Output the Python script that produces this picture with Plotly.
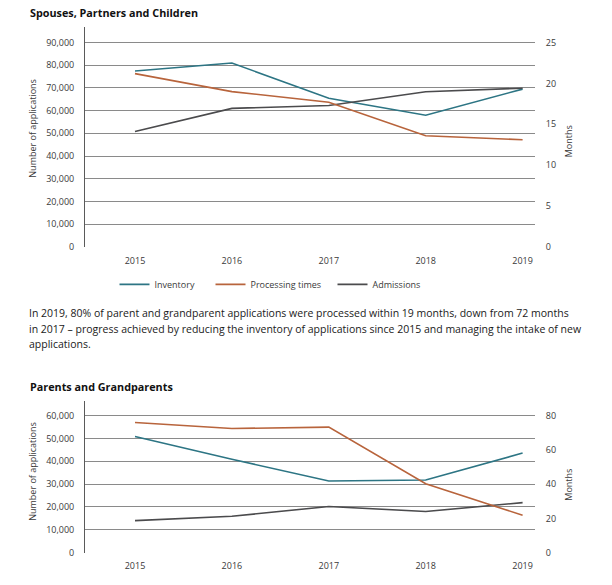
import plotly.graph_objects as go

W, H = 612, 585

years = [2015, 2016, 2017, 2018, 2019]
series_names = ["Inventory", "Processing times", "Admissions"]

# Spouses, Partners and Children
spc_inventory = [77500, 81000, 65500, 58000, 69500]
spc_processing_months = [21.2, 19.0, 17.7, 13.6, 13.1]
spc_admissions = [50800, 61000, 62300, 68300, 69900]

# Parents and Grandparents
pg_inventory = [50900, 40900, 31400, 31800, 43600]
pg_processing_months = [76.0, 72.5, 73.3, 40.2, 21.8]
pg_admissions = [14000, 15900, 20200, 18000, 21900]

spc_left_ticks = [0, 10000, 20000, 30000, 40000, 50000, 60000, 70000, 80000, 90000]
spc_right_ticks = [0, 5, 10, 15, 20, 25]
pg_left_ticks = [0, 10000, 20000, 30000, 40000, 50000, 60000]
pg_right_ticks = [0, 20, 40, 60, 80]

title_top = "Spouses, Partners and Children"
title_bottom = "Parents and Grandparents"
left_title = "Number of applications"
right_title = "Months"
paragraph_lines = [
    "In 2019, 80% of parent and grandparent applications were processed within 19 months, down from 72 months",
    "in 2017 \u2013 progress achieved by reducing the inventory of applications since 2015 and managing the intake of new",
    "applications.",
]

colors = {"Inventory": "#2d7584", "Processing times": "#b8643c", "Admissions": "#4b4b4d"}
FONT = "Open Sans"
TICK_COLOR = "#3a3a3a"
GRID = "#8a8a8a"


def px_x(x):
    return x / W


def px_y(y):
    return 1 - y / H


fig = go.Figure()

legend_ids = ["legend", "legend2", "legend3"]

# top chart traces (each with its own legend box so entries can be placed as in the reference)
fig.add_trace(go.Scatter(x=years, y=spc_inventory, name=series_names[0], mode="lines", legend=legend_ids[0],
                         line=dict(color=colors["Inventory"], width=1.6), xaxis="x", yaxis="y"))
fig.add_trace(go.Scatter(x=years, y=spc_processing_months, name=series_names[1], mode="lines", legend=legend_ids[1],
                         line=dict(color=colors["Processing times"], width=1.6), xaxis="x", yaxis="y2"))
fig.add_trace(go.Scatter(x=years, y=spc_admissions, name=series_names[2], mode="lines", legend=legend_ids[2],
                         line=dict(color=colors["Admissions"], width=1.6), xaxis="x", yaxis="y"))

# bottom chart traces
fig.add_trace(go.Scatter(x=years, y=pg_inventory, name=series_names[0], mode="lines", showlegend=False,
                         line=dict(color=colors["Inventory"], width=1.6), xaxis="x2", yaxis="y3"))
fig.add_trace(go.Scatter(x=years, y=pg_processing_months, name=series_names[1], mode="lines", showlegend=False,
                         line=dict(color=colors["Processing times"], width=1.6), xaxis="x2", yaxis="y4"))
fig.add_trace(go.Scatter(x=years, y=pg_admissions, name=series_names[2], mode="lines", showlegend=False,
                         line=dict(color=colors["Admissions"], width=1.6), xaxis="x2", yaxis="y3"))

xdom = [px_x(85), px_x(535)]
xrange_ = [2014.484, 2019.128]
tickfont = dict(family=FONT, size=9, color=TICK_COLOR)

common_x = dict(domain=xdom, range=xrange_, tickvals=years, ticktext=[str(y) for y in years],
                showgrid=False, zeroline=False, showline=False, tickfont=tickfont,
                ticks="outside", ticklen=5, tickcolor="rgba(0,0,0,0)", fixedrange=True)

top_max = 97000
bot_max = 66500

legend_style = dict(orientation="h", xanchor="left", yanchor="middle", y=px_y(287.3),
                    font=dict(family=FONT, size=9, color=TICK_COLOR), bgcolor="rgba(0,0,0,0)")
legend_x_px = [114.5, 210.5, 332.5]

fig.update_layout(
    width=W, height=H,
    margin=dict(l=0, r=0, t=0, b=0),
    paper_bgcolor="white", plot_bgcolor="white",
    font=dict(family=FONT, size=9, color=TICK_COLOR),
    xaxis=dict(anchor="y", **common_x),
    xaxis2=dict(anchor="y3", **common_x),
    yaxis=dict(domain=[px_y(249.3), px_y(27)], range=[0, top_max], tickvals=spc_left_ticks,
               tickformat=",d", showgrid=True, gridcolor=GRID, gridwidth=1, zeroline=False,
               showline=True, linecolor="#5a5a5a", linewidth=1, tickfont=tickfont,
               ticks="outside", ticklen=8, tickcolor="rgba(0,0,0,0)", fixedrange=True),
    yaxis2=dict(overlaying="y", side="right", anchor="x", range=[0, top_max / 90000 * 25],
                tickvals=spc_right_ticks, showgrid=False, zeroline=False, showline=False,
                tickfont=tickfont, ticks="outside", ticklen=8, tickcolor="rgba(0,0,0,0)", fixedrange=True),
    yaxis3=dict(domain=[px_y(558.3), px_y(405)], range=[0, bot_max], tickvals=pg_left_ticks,
                tickformat=",d", showgrid=True, gridcolor=GRID, gridwidth=1, zeroline=False,
                showline=True, linecolor="#5a5a5a", linewidth=1, tickfont=tickfont, anchor="x2",
                ticks="outside", ticklen=8, tickcolor="rgba(0,0,0,0)", fixedrange=True),
    yaxis4=dict(overlaying="y3", side="right", anchor="x2", range=[0, bot_max / 60000 * 80],
                tickvals=pg_right_ticks, showgrid=False, zeroline=False, showline=False,
                tickfont=tickfont, ticks="outside", ticklen=8, tickcolor="rgba(0,0,0,0)", fixedrange=True),
    legend=dict(x=px_x(legend_x_px[0]), **legend_style),
    legend2=dict(x=px_x(legend_x_px[1]), **legend_style),
    legend3=dict(x=px_x(legend_x_px[2]), **legend_style),
    showlegend=True,
)

annotations = []
# chart titles
annotations.append(dict(text="<b>" + title_top + "</b>", x=px_x(28), y=px_y(12.5), xref="paper", yref="paper",
                        xanchor="left", yanchor="middle", showarrow=False,
                        font=dict(family=FONT, size=10.8, color="#111111")))
annotations.append(dict(text="<b>" + title_bottom + "</b>", x=px_x(28), y=px_y(390), xref="paper", yref="paper",
                        xanchor="left", yanchor="middle", showarrow=False,
                        font=dict(family=FONT, size=10.8, color="#111111")))
# axis titles
for yc in (130, 476.7):
    annotations.append(dict(text=left_title, x=px_x(33), y=px_y(yc), xref="paper", yref="paper",
                            xanchor="center", yanchor="middle", textangle=-90, showarrow=False,
                            font=dict(family=FONT, size=9, color=TICK_COLOR)))
for yc in (143, 490):
    annotations.append(dict(text=right_title, x=px_x(568.7), y=px_y(yc), xref="paper", yref="paper",
                            xanchor="center", yanchor="middle", textangle=-90, showarrow=False,
                            font=dict(family=FONT, size=9, color=TICK_COLOR)))
# paragraph
for i, line in enumerate(paragraph_lines):
    annotations.append(dict(text=line, x=px_x(27), y=px_y(316.7 + 15.5 * i), xref="paper", yref="paper",
                            xanchor="left", yanchor="middle", showarrow=False,
                            font=dict(family=FONT, size=10.5, color="#1a1a1a")))

fig.update_layout(annotations=annotations)

fig.write_html(
    "out.html",
    config={"displayModeBar": False},
    post_script=("document.body.style.margin='0';"
                 "document.body.style.overflow='hidden';"
                 "document.documentElement.style.overflow='hidden';"),
)
